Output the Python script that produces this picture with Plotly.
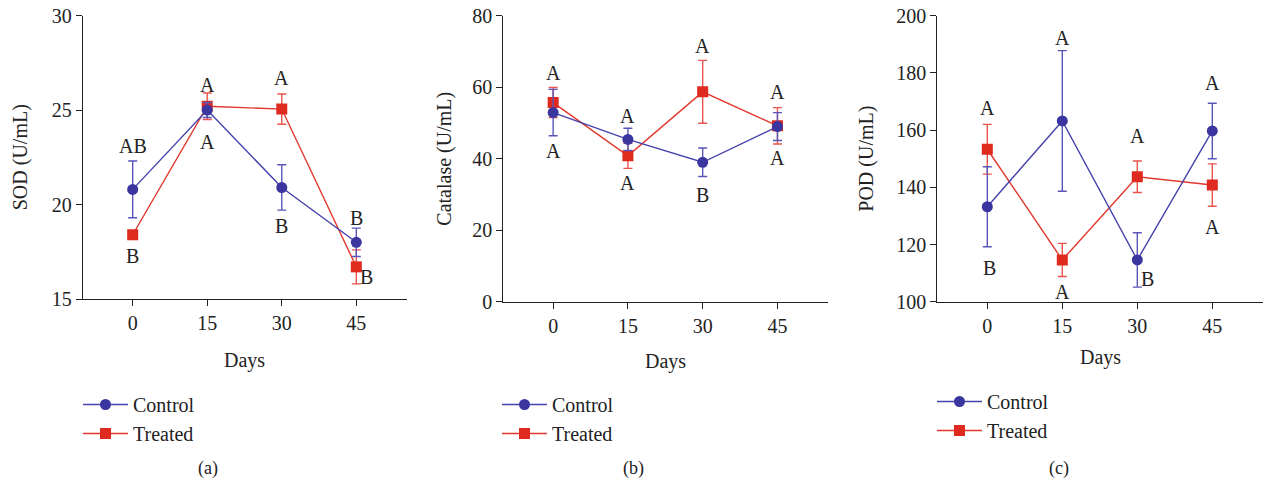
import plotly.graph_objects as go

days = [0, 15, 30, 45]
day_ticks = ["0", "15", "30", "45"]

# Panel (a) SOD
sod_control = [20.8, 25.0, 20.9, 18.0]
sod_control_err = [1.5, 0.4, 1.2, 0.75]
sod_treated = [18.4, 25.2, 25.05, 16.7]
sod_treated_err = [0.1, 0.7, 0.8, 0.9]
sod_labels = ["AB", "B", "A", "A", "A", "B", "B", "B"]
sod_label_x = [0, 0, 15, 15, 30, 30, 45, 47]
sod_label_y = [23.1, 17.3, 26.3, 23.3, 26.7, 18.85, 19.3, 16.15]

# Panel (b) Catalase
cat_control = [52.9, 45.4, 39.0, 49.0]
cat_control_err = [6.5, 3.1, 4.0, 3.9]
cat_treated = [55.7, 40.8, 58.7, 49.2]
cat_treated_err = [4.2, 3.5, 8.8, 5.1]
cat_labels = ["A", "A", "A", "A", "A", "B", "A", "A"]
cat_label_x = [0, 0, 15, 15, 30, 30, 45, 45]
cat_label_y = [64.1, 42.2, 52.0, 33.3, 71.5, 29.8, 58.7, 40.3]

# Panel (c) POD
pod_control = [133.2, 163.2, 114.6, 159.7]
pod_control_err = [14.0, 24.6, 9.5, 9.7]
pod_treated = [153.3, 114.6, 143.7, 140.8]
pod_treated_err = [8.7, 5.8, 5.5, 7.4]
pod_labels = ["A", "B", "A", "A", "A", "B", "A", "A"]
pod_label_x = [0, 0.5, 15, 15, 30, 32, 45, 45]
pod_label_y = [167.8, 111.7, 192.3, 103.5, 157.9, 107.8, 176.6, 126.2]

series_names = ["Control", "Treated"]
y_titles = ["SOD (U/mL)", "Catalase (U/mL)", "POD (U/mL)"]
y_ranges = [[15, 30], [0, 80], [100, 200]]
y_dticks = [5, 20, 20]
captions = ["(a)", "(b)", "(c)"]

W, H = 1268, 487
FONT = "Liberation Serif"
TXT = "#222222"
BLUE = "#3b369f"
BLUE_LINE = "#4643ac"
BLUE_ERR = "#5a56b8"
RED = "#de2a1f"
RED_LINE = "#e2372c"
RED_ERR = "#e9554b"

# pixel layout of each panel: (left, right, top, bottom)
panels_px = [(83, 407, 15.5, 299), (503.3, 828.3, 15.7, 301.7), (937.3, 1263.3, 15.7, 301.7)]
ytitle_x = [20, 445, 867]
days_pos = [(244.5, 360), (665.8, 361), (1100, 357)]
legend_pos = [(78, 385), (497, 385), (932, 382)]
caption_pos = [(208, 468), (633, 468), (1059, 468)]

data = [
    (sod_control, sod_control_err, sod_treated, sod_treated_err, sod_labels, sod_label_x, sod_label_y),
    (cat_control, cat_control_err, cat_treated, cat_treated_err, cat_labels, cat_label_x, cat_label_y),
    (pod_control, pod_control_err, pod_treated, pod_treated_err, pod_labels, pod_label_x, pod_label_y),
]

fig = go.Figure()
annotations = []
layout = {}

for i, (cy, ce, ty, te, labs, lx, ly) in enumerate(data):
    sfx = "" if i == 0 else str(i + 1)
    xa, ya = "x" + sfx, "y" + sfx
    leg = "legend" + sfx
    # treated first so control is on top
    fig.add_trace(go.Scatter(
        x=days, y=ty, name=series_names[1], mode="lines+markers",
        xaxis=xa, yaxis=ya, legend=leg, legendrank=2,
        line=dict(color=RED_LINE, width=1.4),
        marker=dict(symbol="square", size=11, color=RED),
        error_y=dict(type="data", array=te, visible=True, color=RED_ERR, thickness=1.4, width=4.5),
    ))
    fig.add_trace(go.Scatter(
        x=days, y=cy, name=series_names[0], mode="lines+markers",
        xaxis=xa, yaxis=ya, legend=leg, legendrank=1,
        line=dict(color=BLUE_LINE, width=1.4),
        marker=dict(symbol="circle", size=11, color=BLUE),
        error_y=dict(type="data", array=ce, visible=True, color=BLUE_ERR, thickness=1.4, width=4.5),
    ))
    l, r, t, b = panels_px[i]
    axis_common = dict(showline=True, linecolor=TXT, linewidth=1.3, ticks="outside",
                       ticklen=6, tickwidth=1.3, tickcolor=TXT, showgrid=False, zeroline=False,
                       automargin=False,
                       tickfont=dict(family=FONT, size=20, color=TXT))
    layout["xaxis" + sfx] = dict(domain=[l / W, r / W], anchor=ya, range=[-10, 55.2],
                                 tickmode="array", tickvals=days, ticktext=day_ticks, **axis_common)
    layout["yaxis" + sfx] = dict(domain=[1 - b / H, 1 - t / H], anchor=xa, range=y_ranges[i],
                                 dtick=y_dticks[i], **axis_common)
    lxp, lyp = legend_pos[i]
    layout[leg] = dict(x=lxp / W, y=1 - lyp / H, xanchor="left", yanchor="top",
                       xref="paper", yref="paper", bgcolor="rgba(0,0,0,0)",
                       font=dict(family=FONT, size=20, color=TXT),
                       itemwidth=45, tracegroupgap=0, traceorder="normal")
    for txt, xx, yy in zip(labs, lx, ly):
        annotations.append(dict(x=xx, y=yy, xref=xa, yref=ya, text=txt, showarrow=False,
                                xanchor="center", yanchor="middle",
                                font=dict(family=FONT, size=20, color=TXT)))
    annotations.append(dict(x=ytitle_x[i] / W, y=1 - ((t + b) / 2) / H, xref="paper", yref="paper",
                            text=y_titles[i], textangle=-90, showarrow=False,
                            xanchor="center", yanchor="middle",
                            font=dict(family=FONT, size=20, color=TXT)))
    dx, dy = days_pos[i]
    annotations.append(dict(x=dx / W, y=1 - dy / H, xref="paper", yref="paper", text="Days",
                            showarrow=False, xanchor="center", yanchor="middle",
                            font=dict(family=FONT, size=20, color=TXT)))
    cx, cyp = caption_pos[i]
    annotations.append(dict(x=cx / W, y=1 - cyp / H, xref="paper", yref="paper", text=captions[i],
                            showarrow=False, xanchor="center", yanchor="middle",
                            font=dict(family=FONT, size=18, color=TXT)))

fig.update_layout(
    template="none",
    width=W, height=H, margin=dict(l=0, r=0, t=0, b=0, autoexpand=False),
    paper_bgcolor="white", plot_bgcolor="white",
    showlegend=True, annotations=annotations, **layout,
)

fig.write_html("out.html", config={"displayModeBar": False},
               post_script="document.body.style.margin='0';document.body.style.overflow='hidden';")
